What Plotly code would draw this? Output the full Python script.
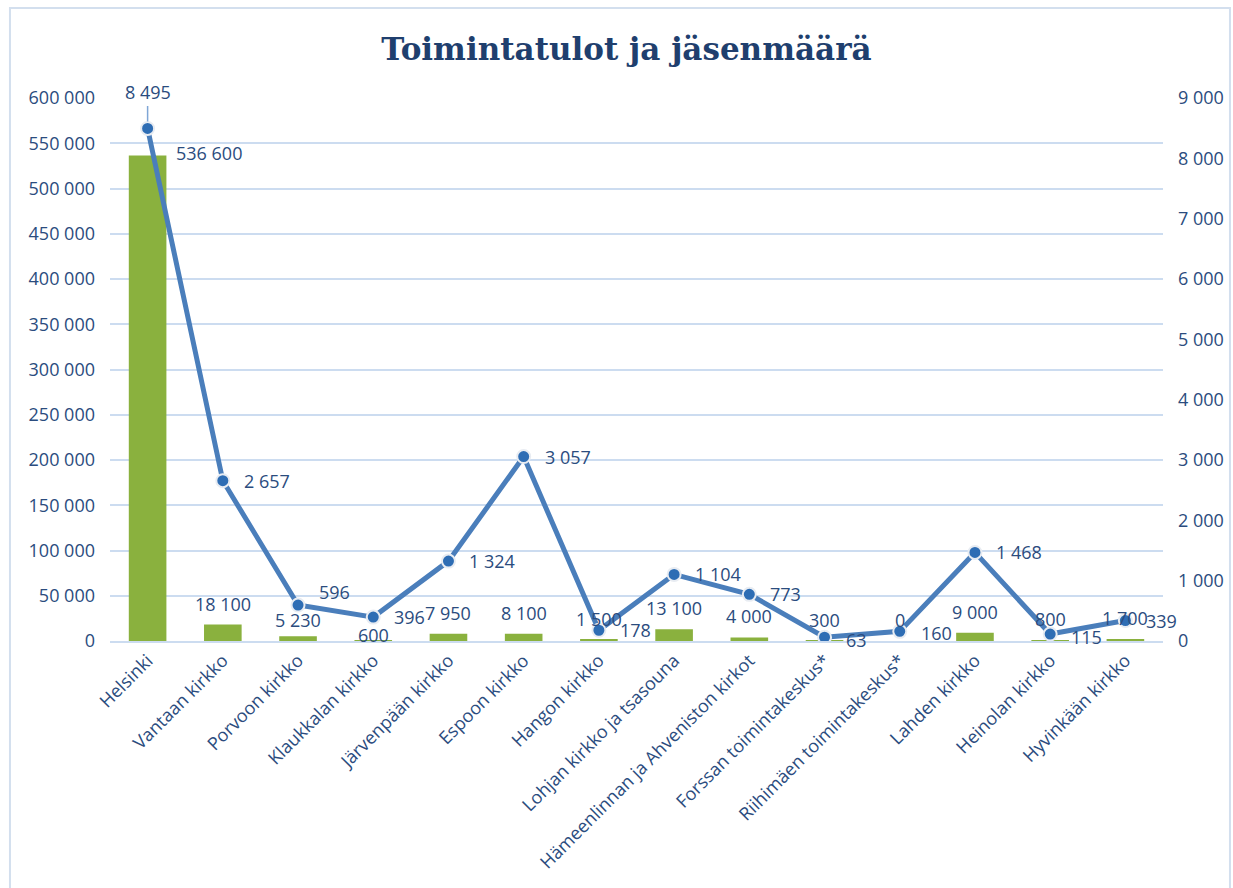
import plotly.graph_objects as go

# Data
categories = ["Helsinki", "Vantaan kirkko", "Porvoon kirkko", "Klaukkalan kirkko",
              "Järvenpään kirkko", "Espoon kirkko", "Hangon kirkko",
              "Lohjan kirkko ja tsasouna", "Hämeenlinnan ja Ahveniston kirkot",
              "Forssan toimintakeskus*", "Riihimäen toimintakeskus*", "Lahden kirkko",
              "Heinolan kirkko", "Hyvinkään kirkko"]
toimintatulot = [536600, 18100, 5230, 600, 7950, 8100, 1500, 13100, 4000, 300, 0, 9000, 800, 1700]
jasenmaara = [8495, 2657, 596, 396, 1324, 3057, 178, 1104, 773, 63, 160, 1468, 115, 339]

TXT = "#2B4C7E"
GRID = "#CCDCF0"
FONT = "Open Sans"

fig = go.Figure()

# bars: income (left axis)
fig.add_trace(go.Bar(x=categories, y=toimintatulot, width=0.5,
                     marker=dict(color="#8AB13E", line=dict(width=0)),
                     name="Toimintatulot"))

# line: members (right axis)
fig.add_trace(go.Scatter(x=categories, y=jasenmaara, yaxis="y2", mode="lines+markers",
                         line=dict(color="#4A7EBB", width=5),
                         marker=dict(size=13, color="#2E6DB4",
                                     line=dict(color="#E8ECF2", width=2)),
                         name="Jäsenmäärä"))

def fmt(v):
    return f"{v:,}".replace(",", " ")

annotations = []
# bar labels, mostly above the bar end
bar_shift = {2: 16, 3: 5}
for i, (c, v) in enumerate(zip(categories, toimintatulot)):
    if i == 0:
        annotations.append(dict(x=c, y=v, xref="x", yref="y", text=fmt(v), showarrow=False,
                                xanchor="left", yanchor="middle", xshift=26, yshift=2))
    else:
        annotations.append(dict(x=c, y=v, xref="x", yref="y", text=fmt(v), showarrow=False,
                                xanchor="center", yanchor="middle", yshift=bar_shift.get(i, 21)))

# line labels, right of the points
line_shift = {2: 13, 9: -3, 12: -3, 10: -2}
for i, (c, v) in enumerate(zip(categories, jasenmaara)):
    if i == 0:
        annotations.append(dict(x=c, y=v, xref="x", yref="y2", text=fmt(v), showarrow=True,
                                arrowhead=0, arrowwidth=1.5, arrowcolor="#7FA6D6",
                                ax=0, ay=-36, standoff=7))
    else:
        annotations.append(dict(x=c, y=v, xref="x", yref="y2", text=fmt(v), showarrow=False,
                                xanchor="left", yanchor="middle", xshift=19,
                                yshift=line_shift.get(i, 0)))

fig.update_layout(
    width=1233, height=888,
    margin=dict(l=110, r=70, t=98, b=247, autoexpand=False),
    paper_bgcolor="white", plot_bgcolor="white",
    font=dict(family=FONT, size=18, color=TXT),
    separators=", ",
    showlegend=False,
    bargap=0.5,
    title=dict(text="<b>Toimintatulot ja jäsenmäärä</b>", x=0.508, xanchor="center",
               y=0.945, yanchor="middle",
               font=dict(family="DejaVu Serif", size=31, color="#1F3F6E")),
    xaxis=dict(range=[-0.5, len(categories) - 0.5], tickangle=-45, showgrid=False,
               showline=True, linecolor=GRID, linewidth=2,
               ticks="", tickfont=dict(size=18, color=TXT), automargin=False),
    yaxis=dict(range=[0, 600000], dtick=50000, tickformat=",d", showgrid=True,
               gridcolor=GRID, gridwidth=2, zeroline=False, ticks="",
               ticklabelstandoff=14, tickfont=dict(size=18, color=TXT), automargin=False),
    yaxis2=dict(range=[0, 9000], dtick=1000, tickformat=",d", overlaying="y", side="right",
                showgrid=False, zeroline=False, ticks="", ticklabelstandoff=14,
                tickfont=dict(size=18, color=TXT), automargin=False),
    annotations=annotations,
    shapes=[dict(type="rect", xref="paper", yref="paper",
                 x0=-0.095, x1=1.0636, y0=-0.46, y1=1.1657,
                 line=dict(color="#D3DFEE", width=2), fillcolor="rgba(0,0,0,0)", layer="below")],
)

fig.write_html("out.html", config={"displayModeBar": False},
               post_script="document.body.style.margin='0';")
